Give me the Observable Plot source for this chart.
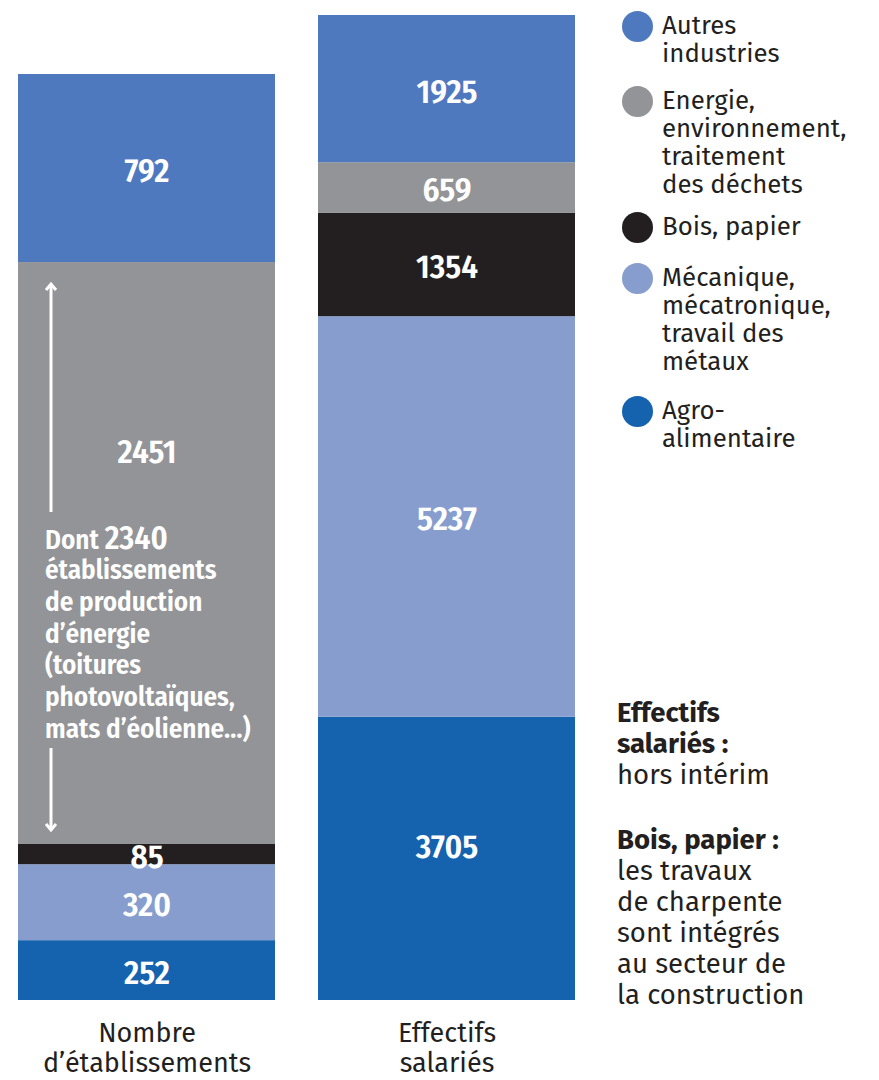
<!DOCTYPE html>
<html>
<head>
<meta charset="utf-8">
<script src="https://cdn.jsdelivr.net/npm/d3@7"></script>
<script src="https://cdn.jsdelivr.net/npm/@observablehq/plot@0.6"></script>
<style>
  html, body { margin: 0; padding: 0; background: #fff; }
  #wrap { position: relative; width: 879px; height: 1080px; overflow: hidden; }
  .chart { position: absolute; top: 0; }
  .narrow { font-family: "Fira Sans Condensed", "Roboto Condensed", sans-serif; font-weight: 600; }
  #annot { position: absolute; left: 45px; top: 0; color: #fff; font-size: 27px; }
  #annot .l { position: absolute; left: 0; white-space: nowrap; line-height: 32px; }
  #legend { position: absolute; left: 622px; top: 0; font-family: "Fira Sans", Roboto, sans-serif; font-size: 25.8px; color: #231F20; }
  .item { position: absolute; left: 0; width: 257px; }
  .dot { position: absolute; left: 0; width: 31px; height: 31px; border-radius: 50%; }
  .txt { position: absolute; left: 40px; line-height: 28.2px; white-space: nowrap; }
  #notes { position: absolute; left: 617px; top: 0; font-family: "Fira Sans", Roboto, sans-serif; font-size: 27.5px; color: #231F20; line-height: 31px; white-space: nowrap; }
  #notes .blk { position: absolute; left: 0; }
  #notes b { font-weight: 700; }
</style>
</head>
<body>
<div id="wrap"></div>
<script>
// ---- data ----
const categories = [
  "Agro-alimentaire",
  "Mécanique, mécatronique, travail des métaux",
  "Bois, papier",
  "Energie, environnement, traitement des déchets",
  "Autres industries"
];
const colors = ["#1562AF", "#869DCE", "#231F20", "#939498", "#4F79BF"];
const etablissements = [252, 320, 85, 2451, 792];
const effectifs = [3705, 5237, 1354, 659, 1925];
const barLabels = ["Nombre\nd’établissements", "Effectifs\nsalariés"];
const legendLabels = [
  "Autres\nindustries",
  "Energie,\nenvironnement,\ntraitement\ndes déchets",
  "Bois, papier",
  "Mécanique,\nmécatronique,\ntravail des\nmétaux",
  "Agro-\nalimentaire"
];
const legendColors = ["#4F79BF", "#939498", "#231F20", "#869DCE", "#1562AF"];
const annotationLines = ["établissements", "de production", "d’énergie", "(toitures", "photovoltaïques,", "mats d’éolienne…)"];
const noteBlocks = [
  ["Effectifs", "salariés :", "hors intérim"],
  ["Bois, papier :", "les travaux", "de charpente", "sont intégrés", "au secteur de", "la construction"]
];
const noteBoldLines = [2, 1];

const wrap = document.getElementById("wrap");
const condensed = "'Fira Sans Condensed', 'Roboto Condensed', sans-serif";

function stackedBar(values, label, marginTop, shiftedCat, shiftDy) {
  const rows = categories.map((c, i) => ({cat: c, value: values[i], bar: label}));
  const fmt = d => String(d.value);
  const textStyle = {fill: "white", fontSize: 33, fontWeight: 600, fontFamily: condensed};
  return Plot.plot({
    width: 293,
    height: 1080,
    marginLeft: 18,
    marginRight: 18,
    marginTop,
    marginBottom: 80,
    x: {domain: [label], padding: 0, label: null},
    y: {domain: [0, d3.sum(values)], axis: null},
    color: {domain: categories, range: colors},
    style: {fontFamily: "'Fira Sans', Roboto, sans-serif", color: "#231F20", background: "transparent", overflow: "visible"},
    marks: [
      Plot.barY(rows, {x: "bar", y: "value", fill: "cat"}),
      Plot.text(rows, Plot.stackY({
        x: "bar", y: "value",
        text: d => d.cat === shiftedCat ? "" : fmt(d),
        dy: 3, ...textStyle
      })),
      Plot.text(rows, Plot.stackY({
        x: "bar", y: "value",
        text: d => d.cat === shiftedCat ? fmt(d) : "",
        dy: shiftDy, ...textStyle
      })),
      Plot.axisX({tickSize: 0, tickPadding: 20, fontSize: 27, lineHeight: 1.12, fill: "#231F20", label: null})
    ]
  });
}

const left = stackedBar(etablissements, barLabels[0], 74, categories[3], -101);
left.classList.add("chart");
left.style.left = "0px";
wrap.appendChild(left);

const right = stackedBar(effectifs, barLabels[1], 15, categories[0], -11);
right.classList.add("chart");
right.style.left = "300px";
wrap.appendChild(right);

// ---- annotation in the grey segment ----
const annot = document.createElement("div");
annot.id = "annot";
annot.className = "narrow";
let html = `<div class="l" style="top:522px"><span>Dont </span><span style="font-size:32px">2340</span></div>`;
annotationLines.forEach((t, i) => {
  html += `<div class="l" style="top:${554 + i * 31.8}px">${t}</div>`;
});
annot.innerHTML = html;
wrap.appendChild(annot);

// arrows
const svgNS = "http://www.w3.org/2000/svg";
const arr = document.createElementNS(svgNS, "svg");
arr.setAttribute("width", "100"); arr.setAttribute("height", "1080");
arr.style.position = "absolute"; arr.style.left = "0"; arr.style.top = "0";
arr.innerHTML = `
  <g stroke="#fff" stroke-width="3" fill="none" stroke-linecap="butt">
    <line x1="51" y1="284" x2="51" y2="512"/>
    <polyline points="46,290 51,284 56,290"/>
    <line x1="51" y1="748" x2="51" y2="830"/>
    <polyline points="46,824 51,830 56,824"/>
  </g>`;
wrap.appendChild(arr);

// ---- legend ----
const legend = document.createElement("div");
legend.id = "legend";
const itemTops = [26, 101, 227, 278, 411];
legendLabels.forEach((t, i) => {
  const it = document.createElement("div");
  it.className = "item";
  it.style.top = (itemTops[i] - 15.5) + "px";
  it.innerHTML = `<div class="dot" style="background:${legendColors[i]}"></div>
    <div class="txt" style="top:1px">${t.replace(/\n/g, "<br>")}</div>`;
  legend.appendChild(it);
});
wrap.appendChild(legend);

// ---- notes ----
const notes = document.createElement("div");
notes.id = "notes";
const blockTops = [697, 824];
noteBlocks.forEach((lines, b) => {
  const blk = document.createElement("div");
  blk.className = "blk";
  blk.style.top = blockTops[b] + "px";
  blk.innerHTML = lines.map((l, i) => i < noteBoldLines[b] ? `<b>${l}</b>` : l).join("<br>");
  notes.appendChild(blk);
});
wrap.appendChild(notes);
</script>
</body>
</html>
